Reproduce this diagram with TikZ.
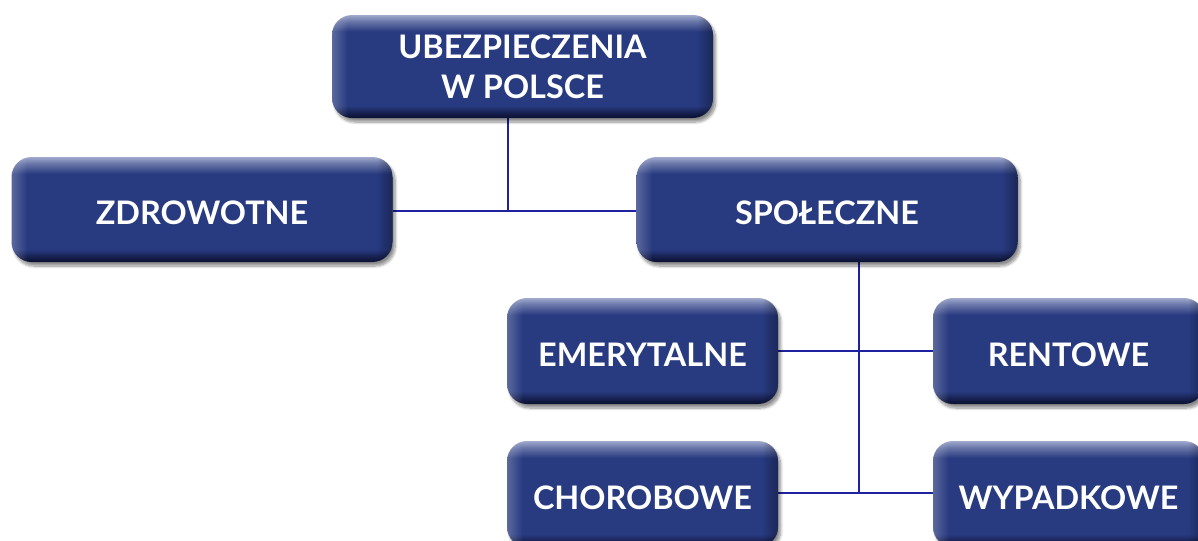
\documentclass[tikz,border=0pt]{standalone}
\usepackage{fontspec}
\setmainfont{Lato}
\usetikzlibrary{shadows.blur,fadings}
\pgfdeclarelayer{background}
\pgfsetlayers{background,main}
\definecolor{navy}{HTML}{283A80}
\definecolor{navydark}{HTML}{0B1030}
\definecolor{navylight}{HTML}{A0A9CC}
\definecolor{linecol}{HTML}{1E22A0}
\pgfdeclareverticalshading{boxshade}{100bp}{
  color(0bp)=(navydark); color(25bp)=(navydark); color(27bp)=(navydark!70!navy);
  color(31bp)=(navy); color(67bp)=(navy); color(72bp)=(navylight!55!navy);
  color(75bp)=(navylight); color(100bp)=(navylight)}
\tikzfading[name=fadeR, left color=transparent!30, right color=transparent!100]
\tikzfading[name=fadeL, left color=transparent!100, right color=transparent!30]
\tikzset{
  box/.style={rounded corners=15pt, shading=boxshade, draw=none,
    blur shadow={shadow xshift=2pt, shadow yshift=-3pt, shadow blur steps=8, shadow opacity=45},
    text=white, font=\bfseries\fontsize{24.3}{30}\selectfont, align=center,
    inner sep=0pt},
  single/.style={text height=23pt, text depth=0pt},
  wide/.style={minimum width=381*0.75pt, minimum height=105*0.75pt},
  small/.style={minimum width=271*0.75pt, minimum height=106*0.75pt, single},
  conn/.style={draw=linecol, line width=2pt}
}
\begin{document}
\begin{tikzpicture}[x=0.75pt,y=-0.75pt]
\useasboundingbox (0,0) rectangle (1198,540);
\coordinate (j1) at (508,211);
\coordinate (j2) at (859,493);
% nodes
\node[box, wide, minimum height=103*0.75pt] (top) at (522.5,66.5) {UBEZPIECZENIA\\W POLSCE};
\node[box, wide, single] (zdr) at (202,209.5) {ZDROWOTNE};
\node[box, wide, single] (spo) at (827,209.5) {SPOŁECZNE};
\node[box, small] (eme) at (642.5,351) {EMERYTALNE};
\node[box, small] (ren) at (1068.5,351) {RENTOWE};
\node[box, small] (cho) at (642.5,494) {CHOROBOWE};
\node[box, small] (wyp) at (1068.5,494) {WYPADKOWE};
% side highlights
\foreach \n in {top,zdr,spo,eme,ren,cho,wyp}{
  \begin{scope}
    \clip[rounded corners=15pt] (\n.south west) rectangle (\n.north east);
    \fill[white, path fading=fadeR, fill opacity=0.35] (\n.south west) rectangle ([xshift=12pt]\n.north west);
    \fill[black, path fading=fadeL, fill opacity=0.45] ([xshift=-12pt]\n.south east) rectangle (\n.north east);
  \end{scope}
}
% connectors
\begin{pgfonlayer}{background}
  \draw[conn] (top.south -| j1) -- (j1);
  \draw[conn] (zdr.east |- j1) -- (spo.west |- j1);
  \draw[conn] (spo.south -| j2) -- (j2);
  \draw[conn] (eme.east) -- (ren.west);
  \draw[conn] (cho.east |- j2) -- (wyp.west |- j2);
\end{pgfonlayer}
\end{tikzpicture}
\end{document}
